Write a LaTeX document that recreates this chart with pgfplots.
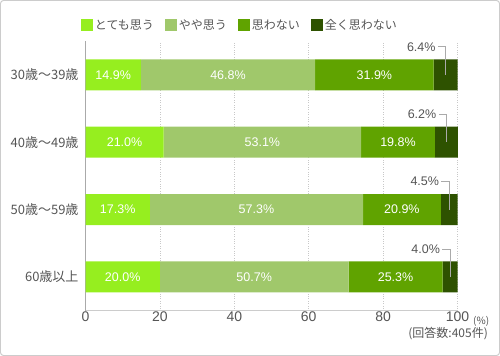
\documentclass[border=0pt]{standalone}
\usepackage{pgfplots}
\pgfplotsset{compat=1.18}
\usepackage{fontspec}
\setmainfont{Liberation Sans}
\newfontfamily\jp{Noto Sans CJK JP}
\definecolor{cA}{HTML}{96EE1F}
\definecolor{cB}{HTML}{A0C86B}
\definecolor{cC}{HTML}{60A300}
\definecolor{cD}{HTML}{2E5200}
\definecolor{txt}{HTML}{555555}
\definecolor{frame}{HTML}{CCCCCC}
\definecolor{gridc}{HTML}{C8C8C8}
\definecolor{leadc}{HTML}{AAAAAA}
\definecolor{ylinec}{HTML}{AAAAAA}

\pgfplotstableread{
y  a    b    c    d
3  14.9 46.8 31.9 6.4
2  21.0 53.1 19.8 6.2
1  17.3 57.3 20.9 4.5
0  20.0 50.7 25.3 4.0
}\datatab

\pgfplotstableread{
x      y  label
7.45   3  14.9\%
38.30  3  46.8\%
77.65  3  31.9\%
10.50  2  21.0\%
47.55  2  53.1\%
84.00  2  19.8\%
8.65   1  17.3\%
45.95  1  57.3\%
85.05  1  20.9\%
10.00  0  20.0\%
45.35  0  50.7\%
83.35  0  25.3\%
}\innerlabels

\pgfplotstableread{
x      y      label
94.14  3.415  6.4\%
94.34  2.415  6.2\%
95.09  1.415  4.5\%
95.34  0.415  4.0\%
}\outerlabels

\begin{document}
\begin{tikzpicture}
\useasboundingbox (0,0) rectangle (500bp,356bp);
\draw[draw=frame, line width=1bp, rounded corners=3bp] (0.5bp,0.5bp) rectangle (499.5bp,355.5bp);
\begin{axis}[
  at={(85.5bp,45.3bp)}, anchor=south west,
  x=3.72bp, y=67.4bp,
  xmin=0, xmax=100, ymin=-0.5, ymax=3.5,
  xbar stacked, bar width=31bp,
  axis x line=bottom, axis y line=left,
  axis line style={-},
  x axis line style={draw=frame, line width=1bp},
  y axis line style={draw=ylinec, line width=1.5bp},
  ytick={0,1,2,3},
  yticklabels={60歳以上,50歳〜59歳,40歳〜49歳,30歳〜39歳},
  yticklabel style={font=\jp\fontsize{13bp}{15bp}\selectfont, text=txt, xshift=-3.5bp},
  xtick={0,20,40,60,80,100},
  xticklabel style={font=\fontsize{14bp}{16bp}\selectfont, text=txt, inner sep=1bp},
  major tick length=0,
  xmajorgrids, grid style={dotted, draw=gridc, line width=0.7bp},
  /pgf/number format/assume math mode=true,
  clip=false,
  legend columns=4,
  legend image code/.code={\fill[#1] (0bp,-6bp) rectangle (12bp,6bp);},
  legend style={draw=none, fill=none, at={(0.415,1.059)}, anchor=center,
    font=\jp\fontsize{12bp}{14bp}\selectfont, text=txt,
    /tikz/every even column/.append style={column sep=10bp},
    nodes={inner sep=1.5bp}},
]
\addplot[fill=cA, draw=none] table[x=a, y=y] {\datatab};
\addlegendentry{とても思う}
\addplot[fill=cB, draw=none] table[x=b, y=y] {\datatab};
\addlegendentry{やや思う}
\addplot[fill=cC, draw=none] table[x=c, y=y] {\datatab};
\addlegendentry{思わない}
\addplot[fill=cD, draw=none] table[x=d, y=y] {\datatab};
\addlegendentry{全く思わない}
\end{axis}
\begin{axis}[
  at={(85.5bp,45.3bp)}, anchor=south west,
  x=3.72bp, y=67.4bp,
  xmin=0, xmax=100, ymin=-0.5, ymax=3.5,
  hide axis, clip=false,
]
\addplot[draw=none, mark=none, nodes near coords, point meta=explicit symbolic,
  nodes near coords align=center,
  every node near coord/.style={anchor=center, text=white, font=\fontsize{12.5bp}{14bp}\selectfont}]
  table[x=x, y=y, meta=label] {\innerlabels};
\addplot[draw=leadc, line width=0.8bp, mark=none] coordinates {(96.8,3) (96.8,3.415) (94.7,3.415)};
\addplot[draw=leadc, line width=0.8bp, mark=none] coordinates {(97.0,2) (97.0,2.415) (94.9,2.415)};
\addplot[draw=leadc, line width=0.8bp, mark=none] coordinates {(97.75,1) (97.75,1.415) (95.65,1.415)};
\addplot[draw=leadc, line width=0.8bp, mark=none] coordinates {(98.0,0) (98.0,0.415) (95.9,0.415)};
\addplot[draw=none, mark=none, nodes near coords, point meta=explicit symbolic,
  every node near coord/.style={anchor=east, inner sep=0pt, text=txt, font=\fontsize{12.5bp}{14bp}\selectfont}]
  table[x=x, y=y, meta=label] {\outerlabels};
\end{axis}
\node[anchor=west, text=txt, font=\jp\fontsize{10bp}{12bp}\selectfont, inner sep=0pt] at (473bp,35bp) {(\%)};
\node[anchor=east, text=txt, font=\jp\fontsize{12bp}{14bp}\selectfont, inner sep=0pt] at (488bp,22bp) {(回答数:405件)};
\end{tikzpicture}
\end{document}
